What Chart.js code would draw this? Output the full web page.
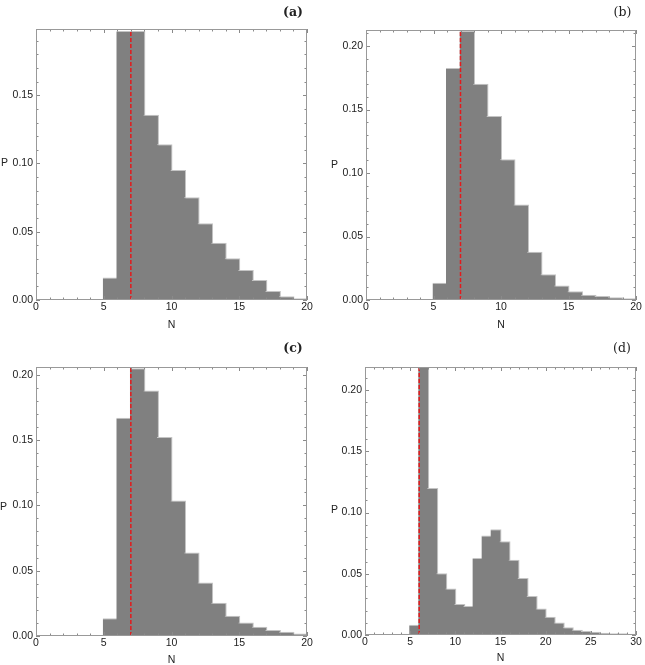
<!DOCTYPE html>
<html><head><meta charset="utf-8">
<script src="https://cdn.jsdelivr.net/npm/chart.js@4.4.1/dist/chart.umd.min.js"></script>
<style>
html,body{margin:0;padding:0;background:#fff;width:645px;height:665px;overflow:hidden}
.p{position:absolute}
</style></head><body>
<div class="p" style="left:0;top:0;width:322px;height:332px"><canvas id="cA"></canvas></div>
<div class="p" style="left:322px;top:0;width:323px;height:332px"><canvas id="cB"></canvas></div>
<div class="p" style="left:0;top:332px;width:322px;height:333px"><canvas id="cC"></canvas></div>
<div class="p" style="left:322px;top:332px;width:323px;height:333px"><canvas id="cD"></canvas></div>
<script>
// ---- data ----
const binsA = [5,6,7,8,9,10,11,12,13,14,15,16,17,18,19];
const probA = [0.0164,0.197,0.197,0.1356,0.114,0.0953,0.0752,0.0562,0.042,0.0305,0.022,0.0147,0.0066,0.0027,0.0012];
const meanA = 7;

const binsB = [5,6,7,8,9,10,11,12,13,14,15,16,17,18,19];
const probB = [0.0136,0.1827,0.2118,0.1703,0.1449,0.1108,0.0751,0.038,0.0202,0.0115,0.0068,0.0042,0.0031,0.0021,0.0013];
const meanB = 7;

const binsC = [5,6,7,8,9,10,11,12,13,14,15,16,17,18,19];
const probC = [0.0135,0.167,0.205,0.188,0.1524,0.1037,0.064,0.041,0.0255,0.0155,0.0104,0.0071,0.0046,0.0033,0.002];
const meanC = 7;

const binsD = [1,2,3,4,5,6,7,8,9,10,11,12,13,14,15,16,17,18,19,20,21,22,23,24,25,26,27,28,29];
const probD = [0.0005,0.0002,0.0002,0.001,0.0084,0.23,0.12,0.0505,0.038,0.0253,0.0236,0.0628,0.0813,0.0864,0.0766,0.0614,0.0465,0.0318,0.0217,0.015,0.0103,0.0063,0.0043,0.0033,0.0027,0.0019,0.0014,0.0014,0.001];
const meanD = 6;

const xTicks20 = [0,5,10,15,20];
const xTicks30 = [0,5,10,15,20,25,30];
const yTicksA = [0,0.05,0.10,0.15];
const yTicksBCD = [0,0.05,0.10,0.15,0.20];
const panelLabels = ['(a)','(b)','(c)','(d)'];
const xTitle = 'N';
const yTitle = 'P';

// ---- drawing ----
const FONT = "'Liberation Sans', Arial, sans-serif";

const deco = {
  id: 'deco',
  afterDatasetsDraw(chart, args, o) {
    const {ctx, chartArea: a, scales: {x, y}} = chart;
    ctx.save();
    ctx.strokeStyle = '#8a8a8a';
    ctx.lineWidth = 1;
    ctx.beginPath();
    for (let i = 0; i <= x.max + 1e-9; i++) {
      const px = Math.round(x.getPixelForValue(i)) + 0.5;
      const L = i % 5 === 0 ? 4 : 2.5;
      ctx.moveTo(px, a.bottom); ctx.lineTo(px, a.bottom - L);
      ctx.moveTo(px, a.top); ctx.lineTo(px, a.top + L);
    }
    for (let i = 0; i * 0.01 <= y.max + 1e-9; i++) {
      const py = Math.round(y.getPixelForValue(i * 0.01)) + 0.5;
      const L = i % 5 === 0 ? 4 : 2.5;
      ctx.moveTo(a.left, py); ctx.lineTo(a.left + L, py);
      ctx.moveTo(a.right, py); ctx.lineTo(a.right - L, py);
    }
    ctx.stroke();
    ctx.strokeStyle = '#999';
    ctx.strokeRect(Math.round(a.left) + 0.5, Math.round(a.top) + 0.5,
                   Math.round(a.right - a.left) - 1, Math.round(a.bottom - a.top) - 1);
    ctx.restore();
  },
  afterDraw(chart, args, o) {
    const {ctx, chartArea: a, scales: {y}} = chart;
    ctx.save();
    ctx.fillStyle = '#222';
    ctx.textAlign = 'center';
    ctx.textBaseline = 'middle';
    ctx.font = (o.bold ? 'bold ' : '') + "12.5px 'DejaVu Serif', serif";
    ctx.fillText(o.label, o.lx, o.ly);
    ctx.font = '10.5px ' + FONT;
    ctx.fillText(xTitle, (a.left + a.right) / 2, a.bottom + o.nDy);
    ctx.fillText(yTitle, o.px, y.getPixelForValue(0.10) + o.pDy);
    ctx.restore();
  }
};

function makeChart(id, bins, probs, mean, xMax, yMax, xTicks, yTicks, L) {
  const bars = bins.map((b, i) => ({x: b + 0.5, y: probs[i]}));
  const unitPx = 270 / xMax;
  new Chart(document.getElementById(id), {
    type: 'bar',
    data: {
      datasets: [
        {
          type: 'line',
          data: [{x: mean, y: 0}, {x: mean, y: yMax}],
          borderColor: '#e41a1c',
          borderWidth: 1.5,
          borderDash: [4, 2],
          pointRadius: 0,
          order: 0
        },
        {
          data: bars,
          backgroundColor: '#808080',
          borderColor: '#c4c4c4',
          borderWidth: {top: 1, right: 1, left: 0, bottom: 0},
          borderSkipped: false,
          barPercentage: 1 + 2 / unitPx,
          categoryPercentage: 1,
          order: 1
        }
      ]
    },
    options: {
      responsive: true,
      maintainAspectRatio: false,
      animation: false,
      events: [],
      layout: {padding: {top: L.top, right: L.right, left: 0, bottom: 0}},
      plugins: {
        legend: {display: false},
        tooltip: {enabled: false},
        deco: {label: L.label, bold: L.bold, lx: L.lx, ly: L.ly, px: L.px, pDy: L.pDy, nDy: L.nDy}
      },
      scales: {
        x: {
          type: 'linear',
          offset: false,
          min: 0, max: xMax,
          grid: {display: false, drawTicks: false, offset: false},
          border: {display: false},
          afterBuildTicks: s => { s.ticks = xTicks.map(v => ({value: v})); },
          afterFit: s => { s.height = L.xH; },
          ticks: {font: {family: FONT, size: 10.5}, color: '#222', padding: 1, maxRotation: 0,
                  callback: v => String(v)}
        },
        y: {
          type: 'linear',
          min: 0, max: yMax,
          grid: {display: false, drawTicks: false},
          border: {display: false},
          afterBuildTicks: s => { s.ticks = yTicks.map(v => ({value: v})); },
          afterFit: s => { s.width = L.yW; },
          ticks: {font: {family: FONT, size: 10.5}, color: '#222', padding: 3,
                  callback: v => Number(v).toFixed(2)}
        }
      }
    },
    plugins: [deco]
  });
}

makeChart('cA', binsA, probA, meanA, 20, 0.1985, xTicks20, yTicksA,
  {top: 29, right: 15, yW: 36, xH: 32, label: panelLabels[0], bold: true, lx: 293, ly: 12.5, px: 4.5, pDy: 0, nDy: 25});
makeChart('cB', binsB, probB, meanB, 20, 0.2126, xTicks20, yTicksBCD,
  {top: 30, right: 9, yW: 44, xH: 32, label: panelLabels[1], bold: false, lx: 300.5, ly: 12.5, px: 12.5, pDy: -8, nDy: 25});
makeChart('cC', binsC, probC, meanC, 20, 0.2059, xTicks20, yTicksBCD,
  {top: 35, right: 15, yW: 36, xH: 29, label: panelLabels[2], bold: true, lx: 293, ly: 17, px: 3.5, pDy: 2, nDy: 24});
makeChart('cD', binsD, probD, meanD, 30, 0.2188, xTicks30, yTicksBCD,
  {top: 35, right: 9, yW: 43, xH: 30, label: panelLabels[3], bold: false, lx: 300, ly: 17, px: 12.5, pDy: -2, nDy: 23});
</script>
</body></html>
